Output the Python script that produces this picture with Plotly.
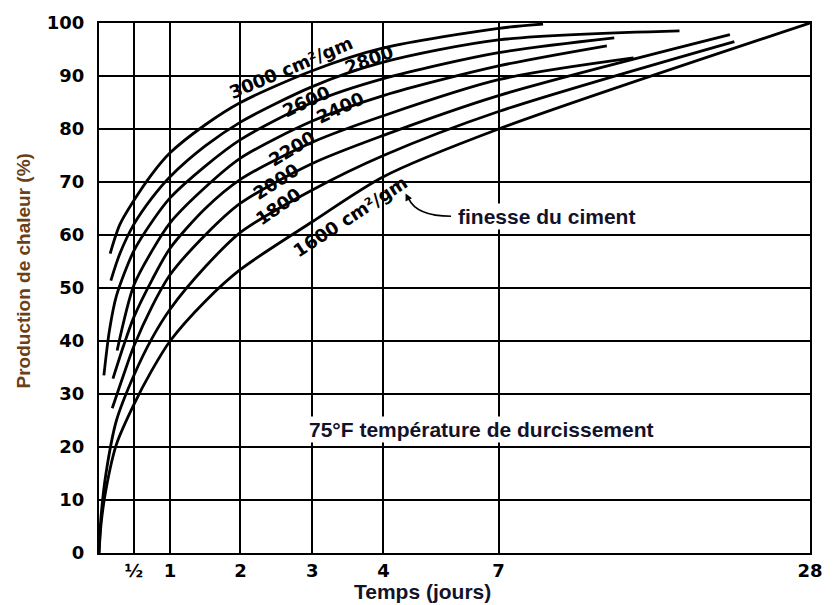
import numpy as np
import plotly.graph_objects as go

# x axis: day ticks and where they sit along the (compressed after 4 days) time axis
TICK_DAYS = [0, 0.5, 1, 2, 3, 4, 7, 28]
TICK_POS = [0, 0.49, 1.0, 1.99, 3.0, 4.0, 5.62, 10.0]
TICK_TEXT = ["", "½", "1", "2", "3", "4", "7", "28"]
Y_TICKS = list(range(0, 101, 10))

# heat generated (% of 28-day value) versus age, per cement fineness (cm²/gm)
days_3000 = [0.16, 0.3, 0.5, 0.75, 1, 1.5, 2, 3, 4, 7, 10]
heat_3000 = [56.5, 62, 66.5, 71.5, 75.5, 80.8, 85, 91, 95.3, 99, 99.8]

days_2800 = [0.17, 0.3, 0.5, 0.75, 1, 1.5, 2, 3, 4, 7, 19.2]
heat_2800 = [51.4, 56.5, 62, 67, 71, 76.8, 81.3, 88, 92.6, 96.8, 98.5]

days_2600 = [0.07, 0.15, 0.25, 0.5, 0.75, 1, 1.5, 2, 3, 4, 7, 14.8]
heat_2600 = [33.5, 42, 48.5, 57, 62.5, 67, 73, 78, 85, 89.5, 94.4, 97.2]

days_2400 = [0.26, 0.5, 0.75, 1, 1.5, 2, 3, 4, 7, 14.3]
heat_2400 = [38.2, 50.5, 57, 62.3, 69, 74.5, 81.5, 86.3, 91.9, 95.7]

days_2200 = [0.2, 0.35, 0.5, 0.75, 1, 1.5, 2, 3, 4, 7, 16.1]
heat_2200 = [32.9, 39, 44.5, 51.5, 57.5, 65, 70.5, 77.5, 82.5, 89.3, 93.4]

days_2000 = [0.19, 0.35, 0.5, 0.75, 1, 1.5, 2, 3, 4, 7, 22.6]
heat_2000 = [27.3, 33.5, 39, 46.5, 52.5, 60, 66, 73.5, 78.8, 86.3, 97.8]

days_1800 = [0, 0.03, 0.1, 0.25, 0.5, 0.75, 1, 1.5, 2, 3, 4, 7, 22.9]
heat_1800 = [0, 7, 15, 25, 33.5, 40.5, 46, 54, 60.5, 68.5, 75, 83.3, 96.5]

days_1600 = [0, 0.03, 0.1, 0.25, 0.5, 0.75, 1, 1.5, 2, 3, 4, 7, 28]
heat_1600 = [0, 5.5, 12, 20.5, 28, 34.5, 40, 47.5, 53.5, 62.5, 71, 80, 100]

SERIES = [
    ("3000", days_3000, heat_3000),
    ("2800", days_2800, heat_2800),
    ("2600", days_2600, heat_2600),
    ("2400", days_2400, heat_2400),
    ("2200", days_2200, heat_2200),
    ("2000", days_2000, heat_2000),
    ("1800", days_1800, heat_1800),
    ("1600", days_1600, heat_1600),
]


def to_axis(days):
    return np.interp(days, TICK_DAYS, TICK_POS)


W, H = 835, 605
ML, MR, MT, MB = 99, 17, 18, 52
PW, PH = W - ML - MR, H - MT - MB
X_MAX = 10.0


def px_x(px):
    return (px - ML) / PW * X_MAX


def px_y(py):
    return (H - MB - py) / PH * 100


fig = go.Figure()
for name, d, h in SERIES:
    fig.add_trace(go.Scatter(
        x=to_axis(d), y=h, mode="lines", name=name,
        line=dict(color="black", width=2.8, shape="spline", smoothing=0.8),
        hoverinfo="skip", showlegend=False,
    ))

NUM_FONT = dict(family="DejaVu Sans", size=18, color="black", weight="bold")
TXT_COLOR = "#12122a"

# curve labels
labels = [
    ("3000 cm²/gm", 293, 63, -23),
    ("2800", 372, 55, -20),
    ("2600", 308, 97, -25),
    ("2400", 343, 103, -25),
    ("2200", 294, 145, -31),
    ("2000", 278, 178, -33),
    ("1800", 280, 203, -35),
    ("1600 cm²/gm", 353, 213, -33),
]
for text, lx, ly, ang in labels:
    fig.add_annotation(x=px_x(lx), y=px_y(ly), text=text, showarrow=False,
                       xanchor="center", yanchor="middle", textangle=ang,
                       font=dict(family="DejaVu Sans", size=18, color="black", weight="bold"))

fig.add_annotation(x=px_x(552), y=px_y(213), text="finesse du ciment", showarrow=False,
                   xanchor="center", yanchor="middle",
                   font=dict(family="Liberation Sans", size=21, color=TXT_COLOR, weight="bold"),
                   bgcolor="white", borderpad=1)
fig.add_annotation(x=px_x(486), y=px_y(428), text="75°F température de durcissement",
                   showarrow=False, bgcolor="white", borderpad=1,
                   xanchor="center", yanchor="middle",
                   font=dict(family="Liberation Sans", size=21, color=TXT_COLOR, weight="bold"))

# leader from the note to the 1600 curve label
x0, y0 = px_x(455), px_y(213)
xc, yc = px_x(420), px_y(213)
x1, y1 = px_x(412), px_y(195)
fig.add_shape(type="path", path=f"M {x0},{y0} Q {xc},{yc} {x1},{y1}",
              line=dict(color="black", width=1.6), xref="x", yref="y")
fig.add_annotation(x=px_x(409), y=px_y(190), ax=4, ay=8, text="", showarrow=True,
                   arrowhead=2, arrowsize=0.9, arrowwidth=1.6, arrowcolor="black",
                   standoff=0)

# axis titles
fig.add_annotation(xref="paper", yref="paper", x=(23 - ML) / PW, y=(H - MB - 268) / PH,
                   xanchor="center", yanchor="middle",
                   text="Production de chaleur (%)", textangle=-90, showarrow=False,
                   font=dict(family="Liberation Sans", size=19, color="#6b4016", weight="bold"))
fig.add_annotation(xref="paper", yref="paper", x=(426 - ML) / PW, y=(H - MB - 592) / PH,
                   xanchor="center", yanchor="middle",
                   text="Temps (jours)", showarrow=False,
                   font=dict(family="Liberation Sans", size=21, color=TXT_COLOR, weight="bold"))

fig.update_xaxes(range=[0, X_MAX], tickvals=to_axis(TICK_DAYS[1:]), ticktext=TICK_TEXT[1:],
                 showgrid=True, gridcolor="black", gridwidth=1.6, zeroline=False,
                 showline=True, linecolor="black", linewidth=2.2, mirror=True,
                 ticks="", ticklabelstandoff=0, tickfont=NUM_FONT)
fig.update_yaxes(range=[0, 100], tickvals=Y_TICKS, ticktext=[str(v) for v in Y_TICKS],
                 showgrid=True, gridcolor="black", gridwidth=1.6, zeroline=False,
                 showline=True, linecolor="black", linewidth=2.2, mirror=True,
                 ticks="", ticklabelstandoff=9, tickfont=NUM_FONT)

fig.update_layout(width=W, height=H, margin=dict(l=ML, r=MR, t=MT, b=MB),
                  paper_bgcolor="white", plot_bgcolor="white")

fig.write_html("out.html")
